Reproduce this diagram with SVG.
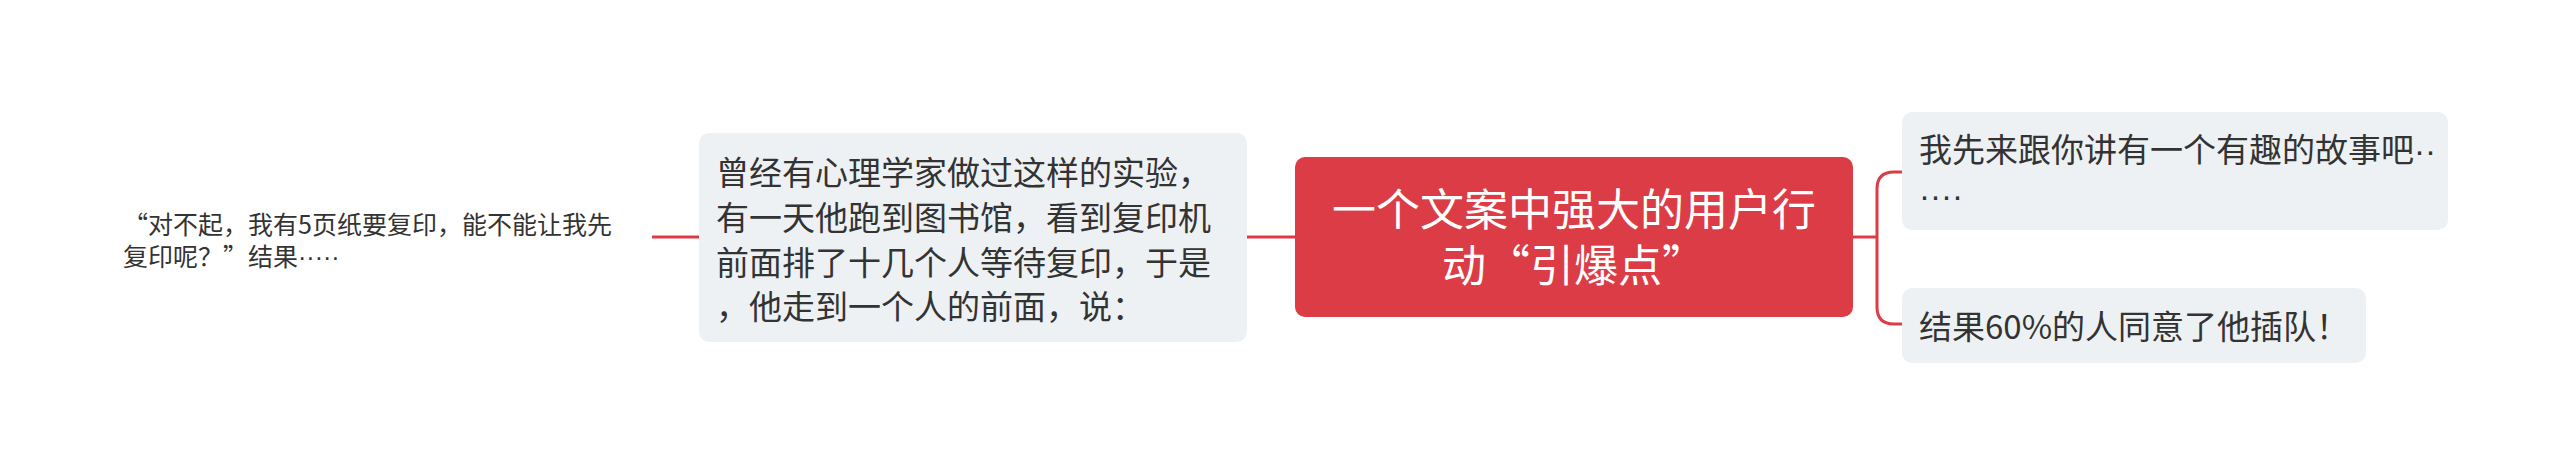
<svg xmlns="http://www.w3.org/2000/svg" width="2560" height="475" viewBox="0 0 2560 475">
<style>
text{font-family:"Noto Sans CJK SC","Noto Sans",sans-serif;fill:#333333}
.dot{font-family:"Liberation Sans",sans-serif}
.root{fill:#dc3c45}
.box{fill:#eef1f4}
.rt{fill:#ffffff;font-size:44px}
.ct{font-size:33px}
.pt{font-size:25px}
.conn{fill:none;stroke:#dc3c45;stroke-width:3}
</style>
<rect width="2560" height="475" fill="#ffffff"/>
<g id="connectors">
<path class="conn" d="M1295 237 H1247"/>
<path class="conn" d="M699 237 H652"/>
<path class="conn" d="M1853 237 H1877"/>
<path class="conn" d="M1902 172 H1894 Q1877 172 1877 189 V307 Q1877 324 1894 324 H1902"/>
</g>
<g id="root">
<rect class="root" x="1295" y="157" width="558" height="160" rx="10"/>
<text class="rt" x="1574" y="226" text-anchor="middle">一个文案中强大的用户行</text>
<text class="rt" x="1574" y="282" text-anchor="middle">动“引爆点”</text>
</g>
<g id="left1">
<rect class="box" x="699" y="133" width="548" height="209" rx="10"/>
<text class="ct" x="716" y="185">曾经有心理学家做过这样的实验，</text>
<text class="ct" x="716" y="230">有一天他跑到图书馆，看到复印机</text>
<text class="ct" x="716" y="275">前面排了十几个人等待复印，于是</text>
<text class="ct" x="716" y="319">，他走到一个人的前面，说：</text>
</g>
<g id="left2">
<text class="pt" x="123" y="234">“对不起，我有5页纸要复印，能不能让我先</text>
<text class="pt" x="123" y="266">复印呢？”结果<tspan class="dot">·····</tspan></text>
</g>
<g id="right1">
<rect class="box" x="1902" y="112" width="546" height="118" rx="10"/>
<text class="ct" x="1919" y="162">我先来跟你讲有一个有趣的故事吧<tspan class="dot">··</tspan></text>
<text class="ct" x="1919" y="207"><tspan class="dot">····</tspan></text>
</g>
<g id="right2">
<rect class="box" x="1902" y="288" width="464" height="75" rx="10"/>
<text class="ct" x="1919" y="339">结果60%的人同意了他插队！</text>
</g>
</svg>
